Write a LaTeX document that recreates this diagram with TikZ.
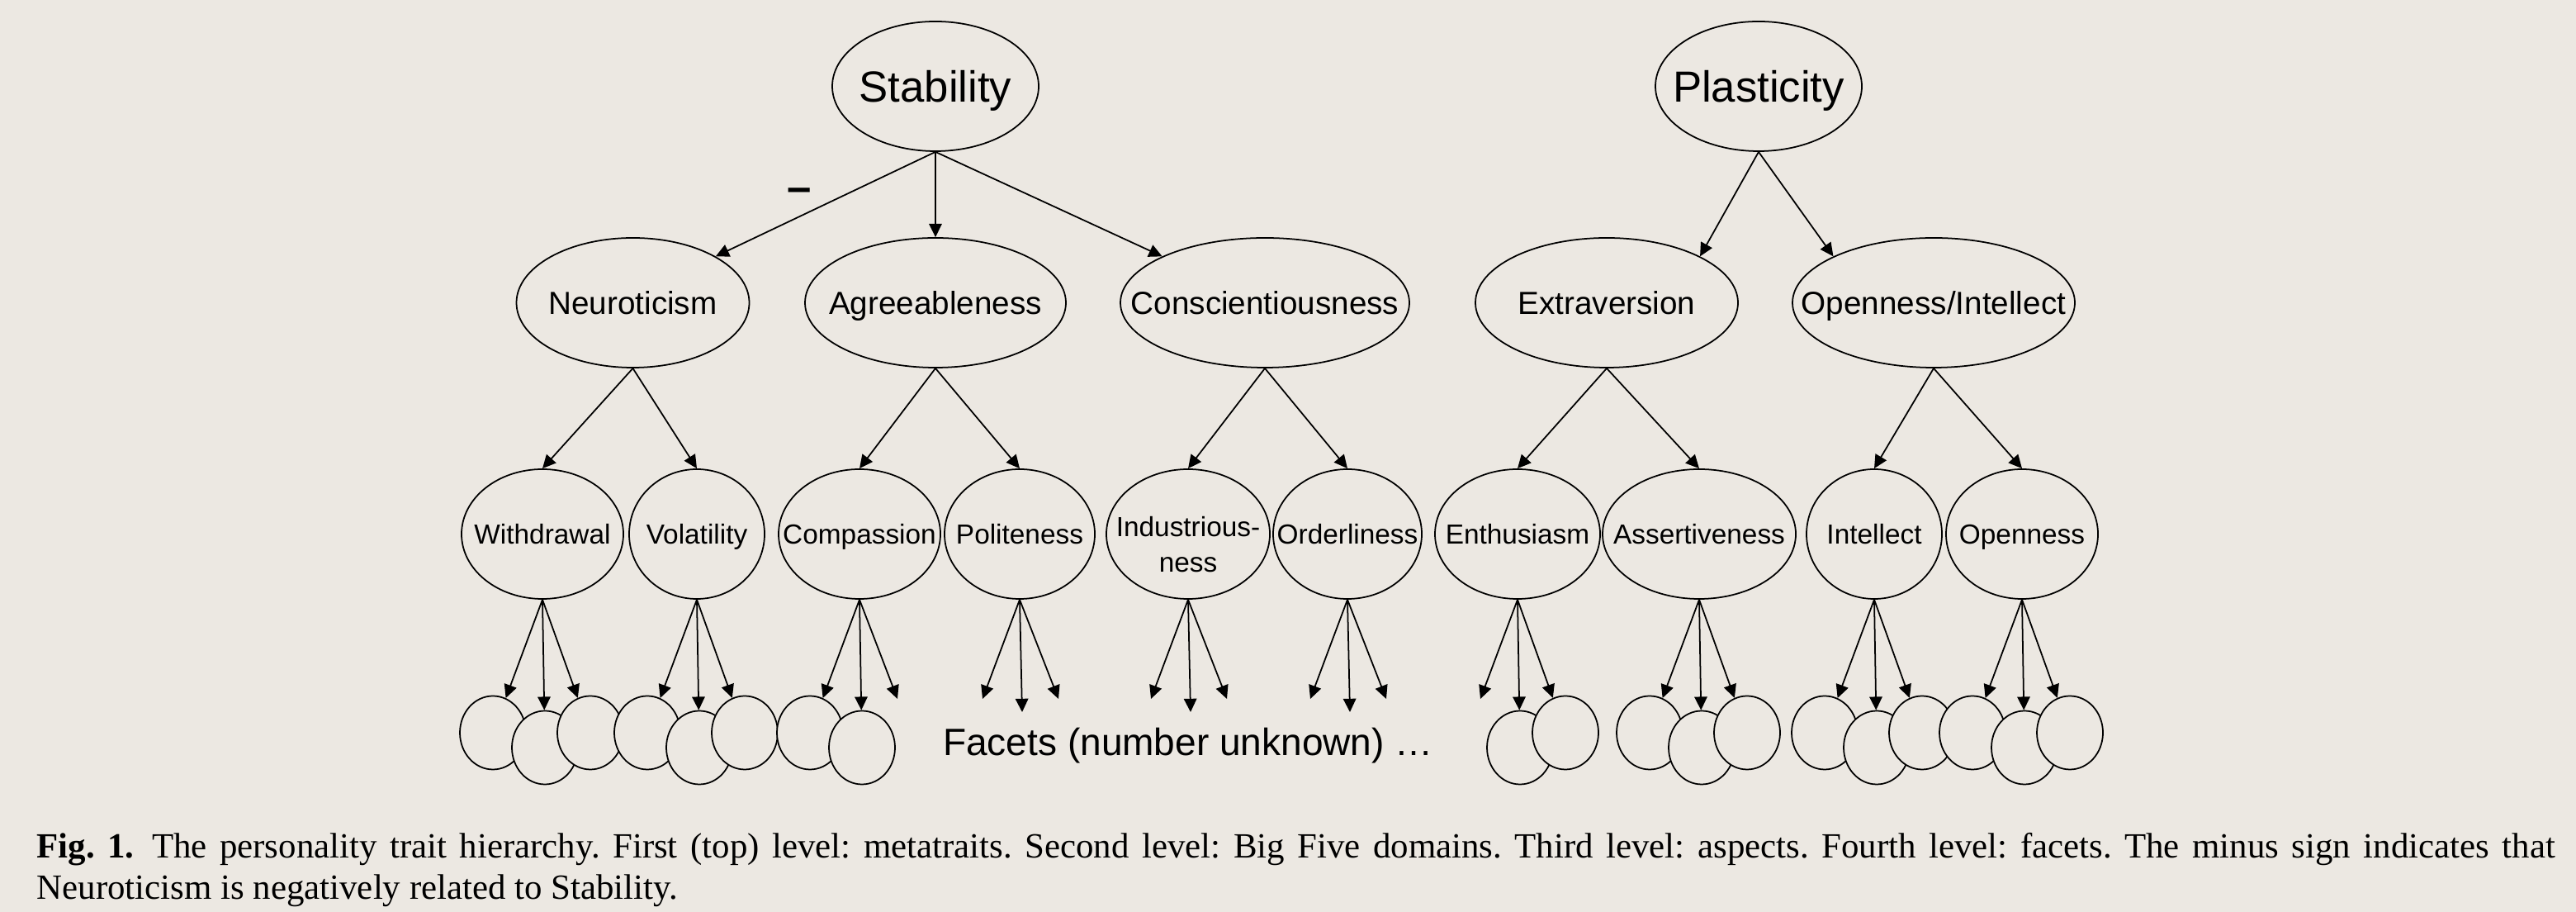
\documentclass[tikz,border=0pt]{standalone}
\usepackage{fontspec}
\setmainfont{Liberation Serif}
\newfontfamily\diagfont{Liberation Sans}
\usetikzlibrary{arrows.meta,shapes.geometric}
\definecolor{paper}{RGB}{236,232,226}

\tikzset{
	trait/.style={ellipse, draw, line width=.5pt, inner sep=0pt, minimum height=1.57cm, text depth=0pt,
		execute at begin node=\hbox to 0pt\bgroup\hss, execute at end node=\hss\egroup},
	metabox/.style={trait, minimum width=2.5cm, text height=10.7pt, font=\diagfont\fontsize{15}{18}\selectfont},
	domainbox/.style={trait, text height=7.9pt, font=\diagfont\fontsize{11}{13}\selectfont},
	aspectbox/.style={trait, text height=6.8pt, font=\diagfont\fontsize{9.5}{11}\selectfont},
	facetbox/.style={ellipse, draw, fill=paper, line width=.5pt, minimum width=.8cm, minimum height=.89cm},
	arr/.style={-{Triangle[length=4.6pt,width=4.4pt]}, line width=.5pt},
	minussign/.style={font=\diagfont\bfseries\fontsize{15}{18}\selectfont},
	facetlabel/.style={font=\diagfont\fontsize{13.1}{15}\selectfont},
	figcaption/.style={text width=30.5cm, align=justify, inner sep=0pt, font=\fontsize{12.2}{14.2}\selectfont\frenchspacing},
}

\begin{document}
\begin{tikzpicture}
		\fill[paper, use as bounding box]	(0, 0) rectangle (31.2, -11.04);

		\node[metabox] (stab) at (11.33, -1.045) {Stability};
		\node[metabox] (plas) at (21.30, -1.045) {Plasticity};

		\node[domainbox, minimum width=2.82cm] (neu) at (7.665, -3.665) {Neuroticism};
		\node[domainbox, minimum width=3.16cm] (agr) at (11.33, -3.665) {Agreeableness};
		\node[domainbox, minimum width=3.50cm] (con) at (15.32, -3.665) {Conscientiousness};
		\node[domainbox, minimum width=3.18cm] (ext) at (19.46, -3.665) {Extraversion};
		\node[domainbox, minimum width=3.42cm] (opi) at (23.42, -3.665) {Openness/Intellect};

		\node[aspectbox, minimum width=1.96cm] (wd)  at (6.57, -6.465)  {Withdrawal};
		\node[aspectbox, minimum width=1.64cm] (vol) at (8.44, -6.465)  {Volatility};
		\node[aspectbox, minimum width=1.96cm] (com) at (10.41, -6.465) {Compassion};
		\node[aspectbox, minimum width=1.82cm] (pol) at (12.35, -6.465) {Politeness};
		\node[aspectbox, minimum width=1.98cm, text height=14pt] (ind) at (14.39, -6.465) {\begin{tabular}{@{}c@{}}Industrious-\\[1pt]ness\end{tabular}};
		\node[aspectbox, minimum width=1.80cm] (ord) at (16.32, -6.465) {Orderliness};
		\node[aspectbox, minimum width=2.00cm] (ent) at (18.38, -6.465) {Enthusiasm};
		\node[aspectbox, minimum width=2.34cm] (ass) at (20.58, -6.465) {Assertiveness};
		\node[aspectbox, minimum width=1.64cm] (int) at (22.70, -6.465) {Intellect};
		\node[aspectbox, minimum width=1.84cm] (opn) at (24.49, -6.465) {Openness};

		\draw[arr]	(stab.south) to node[pos=.41, left=.28cm, minussign] (neg) {–} (neu.north east);
		\draw[arr]	(stab.south) to (agr.north);
		\draw[arr]	(stab.south) to (con.north west);
		\draw[arr]	(plas.south) to (ext.north east);
		\draw[arr]	(plas.south) to (opi.north west);

		\foreach \d/\a in {neu/wd, neu/vol, agr/com, agr/pol, con/ind, con/ord, ext/ent, ext/ass, opi/int, opi/opn}
			\draw[arr]	(\d.south) to (\a.north);

		\foreach \a in {wd, vol, ass, int, opn} {
			\node[facetbox] (\a-l) at ([shift={(-0.60, -2.405)}]\a) {};
			\node[facetbox] (\a-m) at ([shift={(0.03, -2.585)}]\a) {};
			\node[facetbox] (\a-r) at ([shift={(0.58, -2.405)}]\a) {};
		}
		\node[facetbox] (com-l) at ([shift={(-0.60, -2.405)}]com) {};
		\node[facetbox] (com-m) at ([shift={(0.03, -2.585)}]com) {};
		\coordinate (com-r) at ([shift={(0.46, -1.995)}]com);
		\coordinate (ent-l) at ([shift={(-0.45, -1.995)}]ent);
		\node[facetbox] (ent-m) at ([shift={(0.03, -2.585)}]ent) {};
		\node[facetbox] (ent-r) at ([shift={(0.58, -2.405)}]ent) {};
		\foreach \a in {pol, ind, ord} {
			\coordinate (\a-l) at ([shift={(-0.45, -1.995)}]\a);
			\coordinate (\a-m) at ([shift={(0.03, -2.155)}]\a);
			\coordinate (\a-r) at ([shift={(0.47, -1.995)}]\a);
		}

		\foreach \a in {wd, vol, com, pol, ind, ord, ent, ass, int, opn}
			\foreach \f in {l, m, r}
				\draw[arr]	(\a.south) to (\a-\f);

		\node[facetlabel] (fct) at (14.39, -9.03) {Facets (number unknown) …};

		\node[figcaption, anchor=north west] (cap) at (0.44, -10.08) {\textbf{Fig. 1.}\enspace The personality trait hierarchy. First (top) level: metatraits. Second level: Big Five domains. Third level: aspects. Fourth level: facets. The minus sign indicates that\linebreak Neuroticism is negatively related to Stability.};
	\end{tikzpicture}
\end{document}
